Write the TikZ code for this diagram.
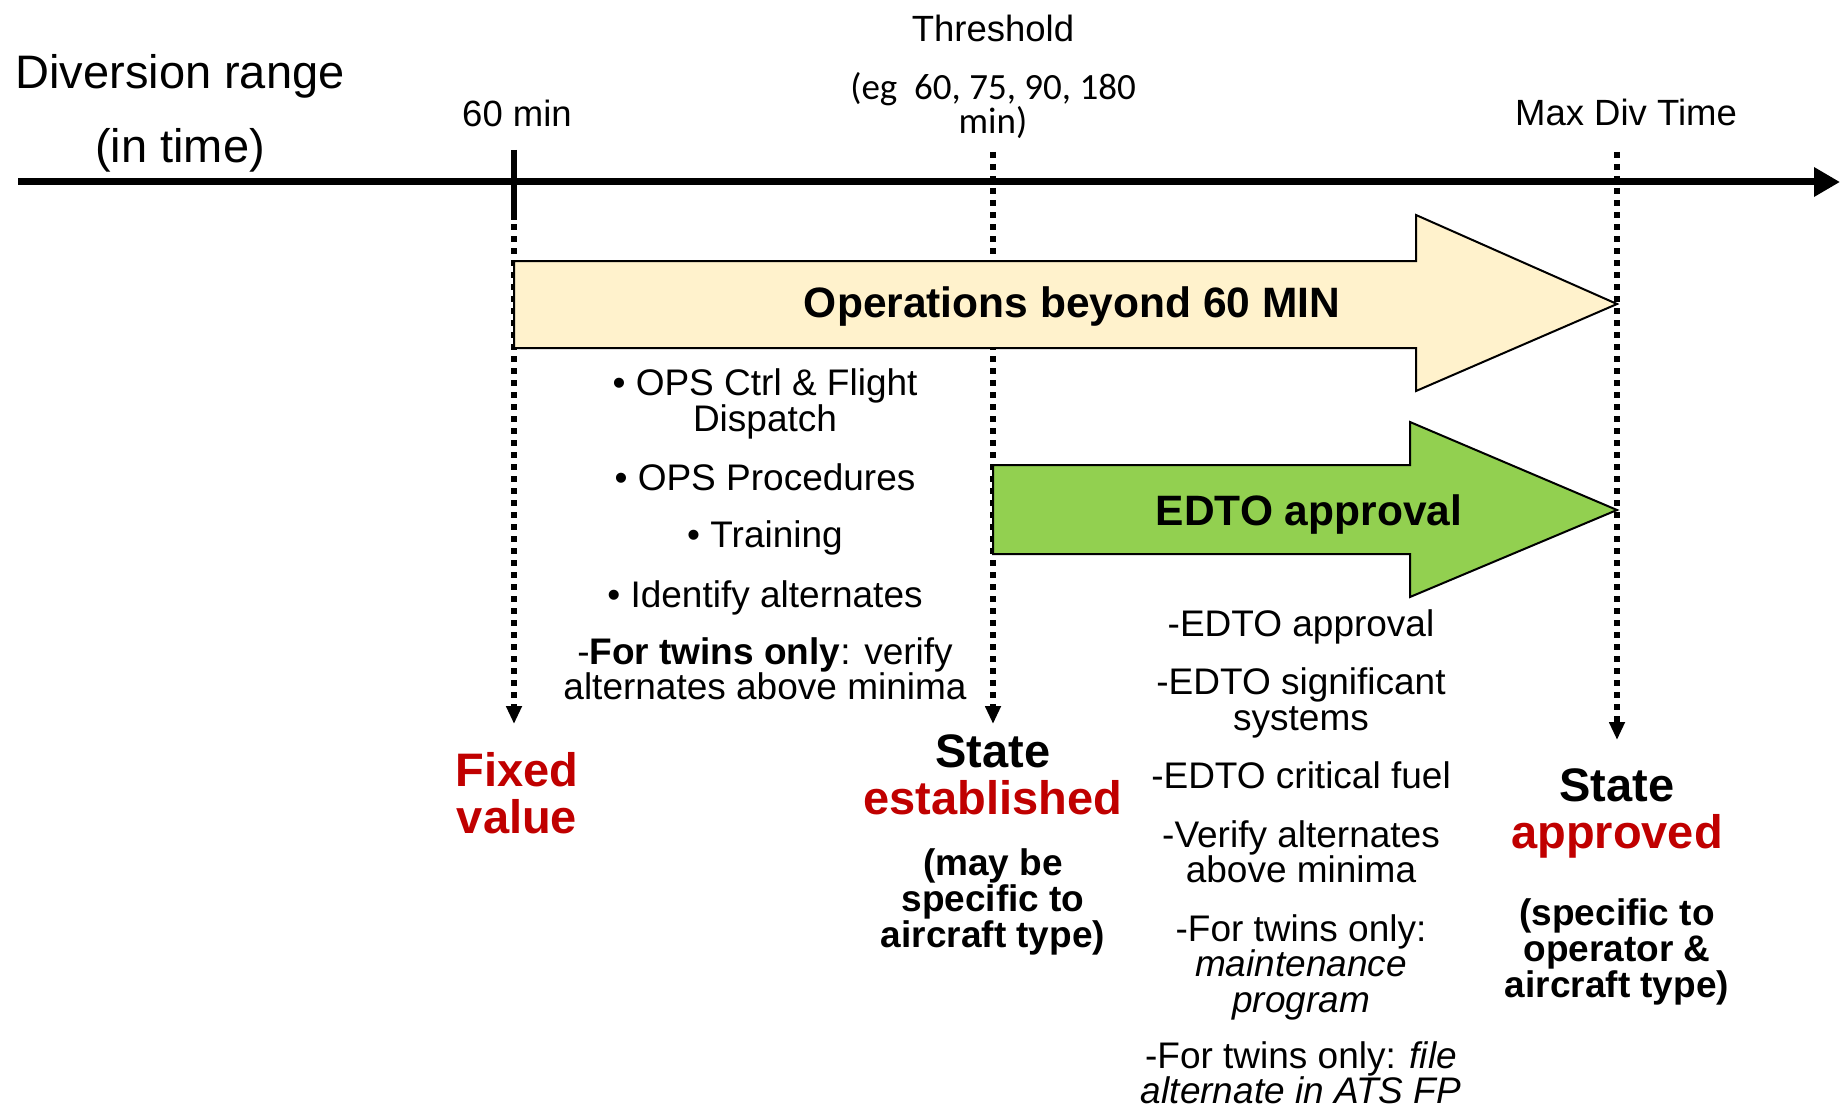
\documentclass[tikz,border=0pt]{standalone}
\usepackage{fontspec}
\setmainfont{Liberation Sans}
\newfontfamily\carlito{Carlito}
\usetikzlibrary{arrows.meta}
\definecolor{pale}{HTML}{FFF2CC}
\definecolor{leaf}{HTML}{92D050}
\definecolor{deepred}{HTML}{C00000}
\begin{document}
\begin{tikzpicture}[x=1pt,y=-1pt,
  txt/.style={inner sep=0pt, align=center, font=\fontsize{37}{35.5}\selectfont},
  axislbl/.style={inner sep=0pt, align=center, font=\fontsize{36.5}{34}\selectfont},
  banner/.style={inner sep=0pt, font=\fontsize{42.5}{42.5}\selectfont\bfseries},
  keyword/.style={inner sep=0pt, align=center, font=\fontsize{47}{47}\selectfont\bfseries},
  remark/.style={inner sep=0pt, align=center, font=\fontsize{37}{36}\selectfont\bfseries},
  guide/.style={line width=6pt, dash pattern=on 6pt off 6pt, -{Triangle[length=18pt,width=15pt]}},
  band/.style={draw=black, line width=2pt, line join=miter}
]
\useasboundingbox (0,0) rectangle (1843,1110);

% time axis
\coordinate (axL) at (18,182);
\coordinate (axR) at (1840,182);
\draw[line width=7pt, -{Triangle[length=26pt,width=28pt]}] (axL) -- (axR);

% markers on the axis
\coordinate (m60top) at (514,150);
\coordinate (m60mid) at (514,220);
\coordinate (m60bot) at (514,724);
\coordinate (thrtop) at (993,152);
\coordinate (thrbot) at (993,724);
\coordinate (maxtop) at (1617,152);
\coordinate (maxbot) at (1617,740);
\draw[line width=6pt] (m60top) -- (m60mid);
\draw[guide] ([yshift=-4pt]m60mid) -- (m60bot);
\draw[guide] (thrtop) -- (thrbot);

% arrow bands
\draw[band, fill=pale] (514,261) -- (1416,261) -- (1416,215) -- (1617,304)
  -- (1416,391) -- (1416,348) -- (514,348) -- cycle;
\draw[band, fill=leaf] (993,465) -- (1410,465) -- (1410,422) -- (1617,510)
  -- (1410,597) -- (1410,554) -- (993,554) -- cycle;
\draw[guide] (maxtop) -- (maxbot);

\node[banner] (ops) at (1072,307) {Operations beyond 60 MIN};
\node[banner] (edto) at (1309,515) {EDTO approval};

% axis labels
\node[inner sep=0pt, align=center, font=\fontsize{47}{74}\selectfont] (divr) at (180,113) {Diversion range\\(in time)};
\node[axislbl] (l60) at (517,113) {60 min};
\node[axislbl] (thr) at (993,28) {Threshold};
\node[inner sep=0pt, align=center, font=\fontsize{37}{34}\selectfont\carlito] (thrval) at (993,106) {(eg\ \ 60, 75, 90, 180\\min)};
\node[axislbl] (maxdiv) at (1626,112) {Max Div Time};

% requirements below the general band
\node[txt] (a1) at (765,404) {• OPS Ctrl \& Flight\\Dispatch};
\node[txt] (a2) at (765,477) {• OPS Procedures};
\node[txt] (a3) at (765,538) {• Training};
\node[txt] (a4) at (765,598) {• Identify alternates};
\node[txt] (a5) at (765,669) {-\textbf{For twins only}: verify\\alternates above minima};

% requirements below the EDTO band
\node[txt] (b1) at (1301,627) {-EDTO approval};
\node[txt] (b2) at (1301,703) {-EDTO significant\\systems};
\node[txt] (b3) at (1301,775) {-EDTO critical fuel};
\node[txt] (b4) at (1301,852) {-Verify alternates\\above minima};
\node[txt] (b5) at (1301,967) {-For twins only:\\\textit{maintenance}\\\textit{program}};
\node[txt] (b6) at (1301,1073) {-For twins only: \textit{file}\\\textit{alternate in ATS FP}};

% outcomes
\node[keyword, text=deepred] (fixed) at (517,793) {Fixed\\value};
\node[keyword] (stest) at (993,775) {State\\\textcolor{deepred}{established}};
\node[remark] (stnote) at (993,902) {(may be\\specific to\\aircraft type)};
\node[keyword] (stapp) at (1617,813) {State\\\textcolor{deepred}{approved}};
\node[remark] (appnote) at (1617,952) {(specific to\\operator \&\\aircraft type)};
\end{tikzpicture}
\end{document}
